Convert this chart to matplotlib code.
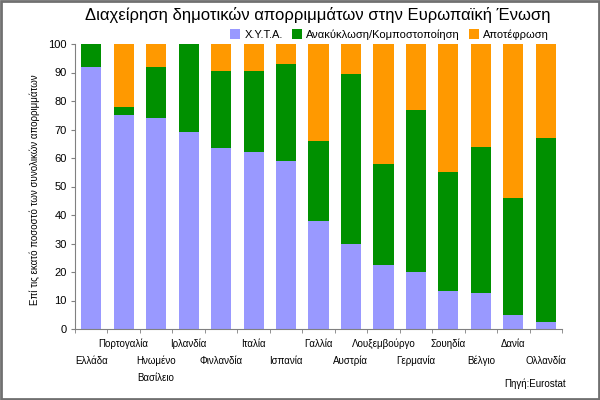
import matplotlib.pyplot as plt
import matplotlib.patches as patches
import numpy as np

plt.rcParams['font.family'] = ['Liberation Sans', 'DejaVu Sans']

countries = ['Ελλάδα', 'Πορτογαλία', 'Ηνωμένο\nΒασίλειο', 'Ιρλανδία', 'Φινλανδία',
             'Ιταλία', 'Ισπανία', 'Γαλλία', 'Αυστρία', 'Λουξεμβούργο',
             'Γερμανία', 'Σουηδία', 'Βέλγιο', 'Δανία', 'Ολλανδία']
landfill = [92, 75, 74, 69, 63.5, 62, 59, 38, 30, 22.5, 20, 13.5, 12.5, 5, 2.5]
recycling = [8, 3, 18, 31, 27, 28.5, 34, 28, 59.5, 35.5, 57, 41.5, 51.5, 41, 64.5]
incineration = [0, 22, 8, 0, 9.5, 9.5, 7, 34, 10.5, 42, 23, 45, 36, 54, 33]

series_names = ['Χ.Υ.Τ.Α.', 'Ανακύκλωση/Κομποστοποίηση', 'Αποτέφρωση']
colors = ['#9999ff', '#009000', '#ff9900']

fig = plt.figure(figsize=(6, 4), dpi=100)
ax = fig.add_axes([0.125, 0.1775, 0.8117, 0.7125])

x = np.arange(len(countries))
w = 0.62
ax.bar(x, landfill, w, color=colors[0], label=series_names[0])
ax.bar(x, recycling, w, bottom=landfill, color=colors[1], label=series_names[1])
bottom2 = np.array(landfill) + np.array(recycling)
ax.bar(x, incineration, w, bottom=bottom2, color=colors[2], label=series_names[2])

ax.set_xlim(-0.5, len(countries) - 0.5)
ax.set_ylim(0, 100)
ax.set_yticks(range(0, 101, 10))
ax.tick_params(axis='y', labelsize=8, length=3, color='#808080', pad=3)

# category ticks sit between bars, names drawn in two staggered rows
ax.set_xticks(x)
ax.set_xticklabels([])
ax.tick_params(axis='x', which='major', length=0)
ax.set_xticks(np.arange(-0.5, len(countries)), minor=True)
ax.tick_params(axis='x', which='minor', length=3, color='#808080')

tr = ax.get_xaxis_transform()
for i, name in enumerate(countries):
    yy = -0.053 if i % 2 == 1 else -0.112
    for k, line in enumerate(name.split('\n')):
        ax.text(i, yy - k * 0.06, line, transform=tr, ha='center', va='center', fontsize=7)

for s in ['top', 'right']:
    ax.spines[s].set_visible(False)
for s in ['left', 'bottom']:
    ax.spines[s].set_color('#808080')

ax.set_ylabel('Επί τις εκατό ποσοστό των συνολικών απορριμμάτων', fontsize=7, labelpad=12)
ax.yaxis.set_label_coords(-0.072, 0.49)

fig.text(0.53, 0.962, 'Διαχείρηση δημοτικών απορριμμάτων στην Ευρωπαϊκή Ένωση',
         ha='center', va='center', fontsize=12)
ax.legend(loc='lower right', bbox_to_anchor=(0.985, 0.995), ncol=3, frameon=False,
          fontsize=8, handlelength=0.9, handleheight=0.9, handletextpad=0.4,
          columnspacing=0.8, borderaxespad=0.1)

fig.text(0.943, 0.04, 'Πηγή:Eurostat', ha='right', va='center', fontsize=7)

fig.patches.append(patches.Rectangle((0.002, 0.003), 0.996, 0.994, transform=fig.transFigure,
                                     fill=False, edgecolor='#707070', linewidth=2))

fig.savefig('out.png', dpi=100)
